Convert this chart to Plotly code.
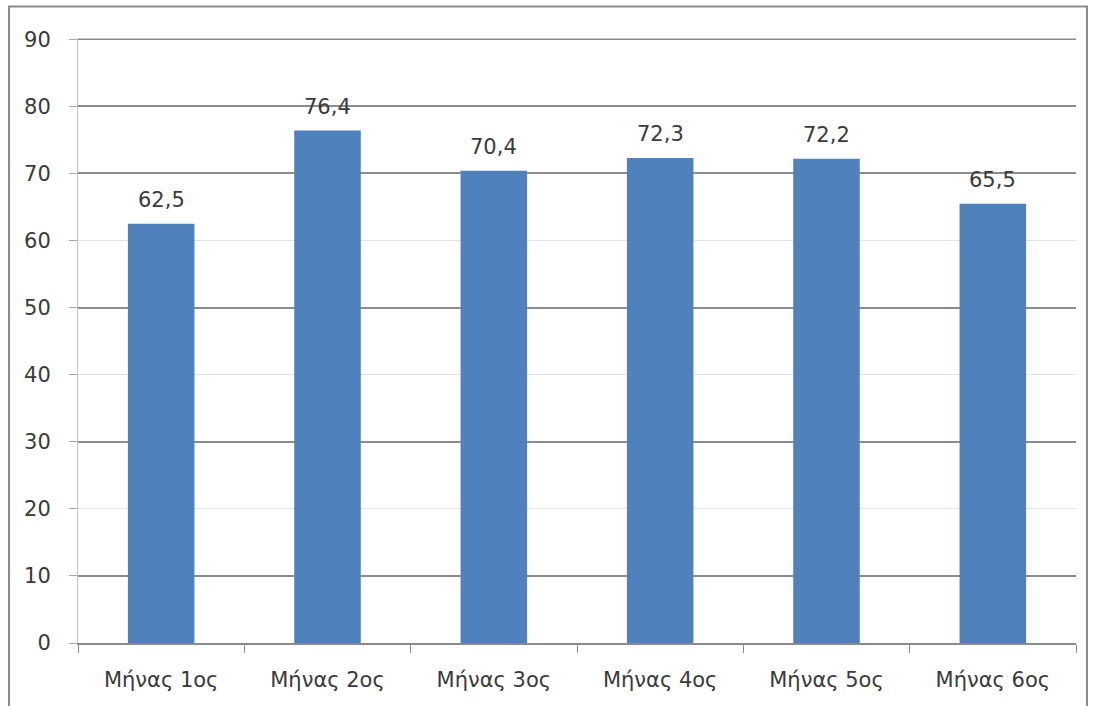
import plotly.graph_objects as go

months = ["Μήνας 1ος", "Μήνας 2ος", "Μήνας 3ος", "Μήνας 4ος", "Μήνας 5ος", "Μήνας 6ος"]
values = [62.5, 76.4, 70.4, 72.3, 72.2, 65.5]
y_ticks = [0, 10, 20, 30, 40, 50, 60, 70, 80, 90]
strong_grid = [10, 30, 50, 70, 80]

BAR = "#4F81BD"
TEXT = "#3a3a3a"
FONT = "DejaVu Sans"
FSIZE = 21
Y_RANGE = [0, 90.2]
GRID_DARK = "#8c8c8c"
GRID_LIGHT = "#e2e2e2"

fig = go.Figure()
fig.add_trace(go.Bar(
    x=months, y=values, marker=dict(color=BAR, line=dict(width=0)),
    width=0.4, yaxis="y2", hoverinfo="skip",
))

# value labels above each bar, with decimal comma
for m, v in zip(months, values):
    fig.add_annotation(
        x=m, y=v, xref="x", yref="y", text=f"{v:.1f}".replace(".", ","),
        showarrow=False, yanchor="middle", yshift=24,
        font=dict(family=FONT, size=FSIZE, color=TEXT),
    )

# top gridline at the axis maximum
fig.add_shape(type="line", xref="paper", yref="y", x0=0, x1=1,
              y0=y_ticks[-1], y1=y_ticks[-1],
              line=dict(color=GRID_DARK, width=1.5), layer="above")

# outer chart frame
fig.add_shape(type="rect", xref="paper", yref="paper",
              x0=-0.0691, x1=1.011, y0=-0.3, y1=1.052,
              line=dict(color="#8a8a8a", width=2), fillcolor="rgba(0,0,0,0)",
              layer="below")

fig.update_layout(
    width=1095, height=706,
    margin=dict(l=78, r=19, t=38, b=63),
    paper_bgcolor="white", plot_bgcolor="white",
    showlegend=False,
    bargap=0.6,
    xaxis=dict(
        type="category", tickson="boundaries", ticks="outside", ticklen=8,
        tickcolor="#8a8a8a", showline=True, linecolor="#8a8a8a", linewidth=1.5,
        showgrid=False, ticklabelstandoff=17,
        tickfont=dict(family=FONT, size=FSIZE, color=TEXT),
    ),
    yaxis=dict(
        range=Y_RANGE, tickvals=y_ticks, ticks="outside", ticklen=8,
        tickcolor="#a8a8a8", showline=True, linecolor="#c4c4c4", linewidth=1,
        gridcolor=GRID_LIGHT, gridwidth=1.2, zeroline=False,
        ticklabelstandoff=14,
        tickfont=dict(family=FONT, size=FSIZE, color=TEXT),
    ),
    yaxis2=dict(
        range=Y_RANGE, overlaying="y", tickvals=strong_grid,
        showticklabels=False, gridcolor=GRID_DARK, gridwidth=1.5,
        zeroline=False, showline=False,
    ),
)

fig.write_html("out.html")
